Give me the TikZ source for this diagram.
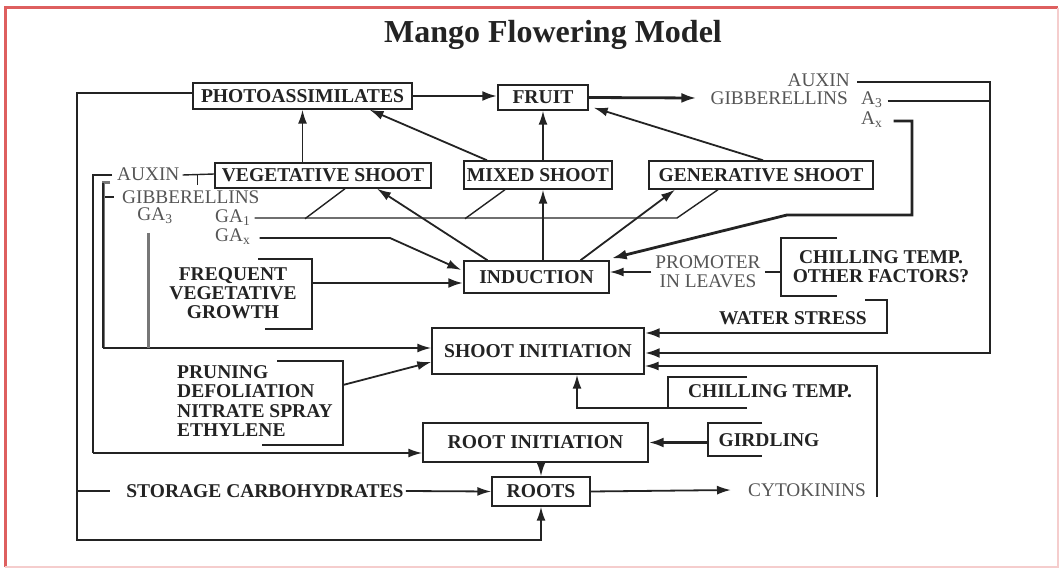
\documentclass[tikz,border=0pt]{standalone}
\usepackage{fontspec}
\setmainfont{Liberation Serif}
\usetikzlibrary{arrows.meta,calc}
\definecolor{ink}{RGB}{35,35,35}
\definecolor{soft}{RGB}{85,85,85}
\definecolor{frame}{RGB}{222,95,95}
\definecolor{framelight}{RGB}{245,205,205}
\begin{document}
\begin{tikzpicture}[x=1pt,y=-1pt,
  box/.style={draw=ink,line width=1.4pt,inner sep=0pt,font=\fontsize{19.6}{20}\selectfont\bfseries,text=ink},
  lbl/.style={inner sep=0pt,font=\fontsize{19.3}{19}\selectfont,text=soft},
  blbl/.style={inner sep=0pt,font=\fontsize{19.5}{19.3}\selectfont\bfseries,text=ink,align=center},
  ln/.style={draw=ink,line width=1.4pt},
  med/.style={draw=ink,line width=2pt},
  thk/.style={draw=ink,line width=2.8pt},
  gthk/.style={draw=soft!80,line width=3pt},
  marr/.style={draw=ink,line width=1.8pt,-{Latex[length=14pt,width=9pt]}},
  tarr/.style={thk,-{Latex[length=15pt,width=10pt]}},
]
\fill[white] (0,0) rectangle (1061,569);
\useasboundingbox (0,0) rectangle (1061,569);
\draw[frame,line width=3pt] (5,567) -- (5,8) -- (1058,8);
\draw[framelight,line width=2pt] (1058,8) -- (1058,567) -- (5,567);

\node[font=\fontsize{32}{33}\selectfont\bfseries,text=ink] (title) at (553,35) {Mango Flowering Model};

% boxes
\node[box,minimum width=219pt,minimum height=26pt] (photo) at (302.5,96) {PHOTOASSIMILATES};
\node[box,minimum width=90pt,minimum height=25pt] (fruit) at (543,97.5) {FRUIT};
\node[box,minimum width=216pt,minimum height=25pt] (veg) at (323,175.5) {VEGETATIVE SHOOT};
\node[box,minimum width=148pt,minimum height=28pt] (mixed) at (538,175) {MIXED SHOOT};
\node[box,minimum width=224pt,minimum height=28pt] (gen) at (761,175) {GENERATIVE SHOOT};
\node[box,minimum width=145pt,minimum height=32pt] (ind) at (536.5,277) {INDUCTION};
\node[box,minimum width=212pt,minimum height=46pt] (sinit) at (538,351) {SHOOT INITIATION};
\node[box,minimum width=225pt,minimum height=39pt] (rinit) at (535.5,442.5) {ROOT INITIATION};
\node[box,minimum width=98pt,minimum height=29pt] (roots) at (541,491.5) {ROOTS};

% labels
\node[lbl,anchor=east] (auxR) at (850,80) {AUXIN};
\node[lbl,anchor=east] (gibR) at (848,98) {GIBBERELLINS};
\node[lbl,anchor=west] (a3) at (861,100) {A\textsubscript{3}};
\node[lbl,anchor=west] (ax) at (861,120) {A\textsubscript{x}};
\node[lbl,anchor=west] (auxL) at (117,174) {AUXIN};
\node[lbl,anchor=west] (gibL) at (122,197) {GIBBERELLINS};
\node[lbl] (ga3) at (155,216) {GA\textsubscript{3}};
\node[lbl,anchor=west] (ga1) at (215,218) {GA\textsubscript{1}};
\node[lbl,anchor=west] (gax) at (215,237) {GA\textsubscript{x}};
\node[blbl] (freq) at (233,293) {FREQUENT\\VEGETATIVE\\GROWTH};
\node[lbl,align=center] (prom) at (708,272) {PROMOTER\\IN LEAVES};
\node[blbl] (chill1) at (881,267) {CHILLING TEMP.\\OTHER FACTORS?};
\node[blbl] (water) at (793,318) {WATER STRESS};
\node[blbl,align=left,anchor=west] (prune) at (177,401) {PRUNING\\DEFOLIATION\\NITRATE SPRAY\\ETHYLENE};
\node[blbl] (chill2) at (770,391) {CHILLING TEMP.};
\node[blbl] (gird) at (769,440) {GIRDLING};
\node[blbl] (stor) at (265,491) {STORAGE CARBOHYDRATES};
\node[lbl] (cyto) at (807,490) {CYTOKININS};

% coordinates for bends
\coordinate (rbar) at (990,82);
\coordinate (axc) at (912,215);
\coordinate (axk) at (787,215);
\coordinate (g1a) at (677,218);
\coordinate (gxk) at (390,238);
\coordinate (fb1) at (258,259);
\coordinate (fb2) at (312,259);
\coordinate (fb3) at (312,329);
\coordinate (fb4) at (265,329);
\coordinate (indw) at ($(ind.west)+(0,6)$);
\coordinate (cb1) at (837,238);
\coordinate (cb2) at (781,238);
\coordinate (cb3) at (781,296);
\coordinate (cb4) at (837,296);
\coordinate (wb1) at (865,300);
\coordinate (wb2) at (887,300);
\coordinate (cv) at (877,497);
\coordinate (c2a) at (747,377);
\coordinate (c2b) at (668,377);
\coordinate (c2c) at (668,408);
\coordinate (c2d) at (747,408);
\coordinate (gb1) at (762,423);
\coordinate (gb2) at (708,423);
\coordinate (gb3) at (708,456);
\coordinate (gb4) at (762,456);
\coordinate (ol1) at (77,93);
\coordinate (ol2) at (77,540);
\coordinate (al1) at (93,175);
\coordinate (al2) at (93,453);
\coordinate (gl0) at (110,183);
\coordinate (gl1) at (103,183);
\coordinate (gl2) at (103,348);
\coordinate (g3t) at (148,233);
\coordinate (pb1) at (277,361);
\coordinate (pb2) at (343,361);
\coordinate (pb3) at (343,445);
\coordinate (pb4) at (262,445);
\coordinate (pbm) at (343,385);

% top row
\draw[tarr] (photo.east) -- (photo.east -| fruit.west);
\draw[tarr] (fruit.east) -- ($(gibR.west)+(-14,0)$);

% right hormone lines
\draw[tarr] ($(auxR.east)+(7,2)$) -- (rbar) |- ($(sinit.east)+(0,2)$);
\draw[thk] ($(a3.east)+(5,1)$) -- ($(a3.east -| rbar)+(0,1)$);
\draw[tarr] ($(ax.east)+(11,1)$) -| (axc) -- (axk) -- ($(ind.north east)+(2,-2)$);

% shoots to photo / fruit
\draw[marr] (veg.north -| photo.south) -- (photo.south);
\draw[marr] ($(mixed.north)+(-51,0)$) -- ($(photo.south)+(67,0)$);
\draw[marr] (fruit.south |- mixed.north) -- (fruit.south);
\draw[marr] ($(gen.north)+(2,0)$) -- ($(fruit.south east)+(5,-3)$);

% induction to shoots
\draw[marr] ($(ind.north)+(-49,0)$) -- ($(veg.south)+(54,0)$);
\draw[marr] (fruit.south |- ind.north) -- (fruit.south |- mixed.south);
\draw[marr] ($(ind.north)+(44,0)$) -- ($(gen.south)+(-86,0)$);

% GA1 line
\draw[ln] ($(ga1.east)+(4,0)$) -- (g1a) -- ($(gen.south)+(-43,0)$);
\draw[ln] ($(veg.south)+(22,0)$) -- ++(-40,30);
\draw[ln] ($(mixed.south)+(-33,0)$) -- ++(-40,29);

% GAx line
\draw[marr] ($(gax.east)+(9,1)$) -- (gxk) -- ($(ind.west)+(-2,-7)$);

% frequent vegetative growth
\draw[med] (fb1) -- (fb2) -- (fb3) -- (fb4);
\draw[tarr] (fb2 |- indw) -- (indw);

% promoter
\draw[marr] ($(prom.west)+(-4,0)$) -- (prom.west -| ind.east);
\draw[ln] ($(prom.east)+(4,0)$) -- (prom.east -| cb2);
\draw[ln] (cb1) -- (cb2) -- (cb3) -- (cb4);

% water stress
\draw[tarr] (wb1) -- (wb2) |- ($(sinit.east)+(0,-18)$);

% cytokinins feedback
\draw[marr] (cv) |- ($(sinit.east)+(0,15)$);

% chilling temp 2
\draw[ln] (c2a) -- (c2b) -- (c2c);
\draw[marr] (c2d) -- (c2c) -| ($(sinit.south)+(39,0)$);

% girdling
\draw[ln] (gb1) -- (gb2) -- (gb3) -- (gb4);
\draw[tarr] (gb2 |- rinit.east) -- (rinit.east);

% roots
\draw[marr] (roots.north |- rinit.south) -- (roots.north);
\draw[marr] (roots.east) -- ($(cyto.west)+(-17,0)$);
\draw[marr] ($(stor.east)+(2,0)$) -- (roots.west);

% outer left loop
\draw[marr] ($(photo.west)+(0,-3)$) -- (ol1) -- (ol2) -| (roots.south);
\draw[ln] (ol1 |- stor) -- ++(33,0);

% auxin left
\draw[thk] ($(auxL.west)+(-5,1)$) -- (al1) -- (al2);
\draw[marr] (al2) -- (al2 -| rinit.west);
\draw[ln] ($(auxL.east)+(3,1)$) -- (auxL.east -| veg.west);
\draw[ln] ($(auxL.east)+(18,1)$) -- ++(0,10);

% gibberellins left
\draw[gthk] (gl0) -- (gl1) -- (gl2);
\draw[ln] (gl1) -- (gl2);
\draw[marr] (gl2) -- (gl2 -| sinit.west);
\draw[ln] ($(gibL.west)+(-17,0)$) -- ++(9,0);
\draw[gthk] (g3t) -- (g3t |- gl2);

% pruning
\draw[ln] (pb1) -- (pb2) -- (pb3) -- (pb4);
\draw[marr] (pbm) -- ($(sinit.west)+(0,11)$);
\end{tikzpicture}
\end{document}
